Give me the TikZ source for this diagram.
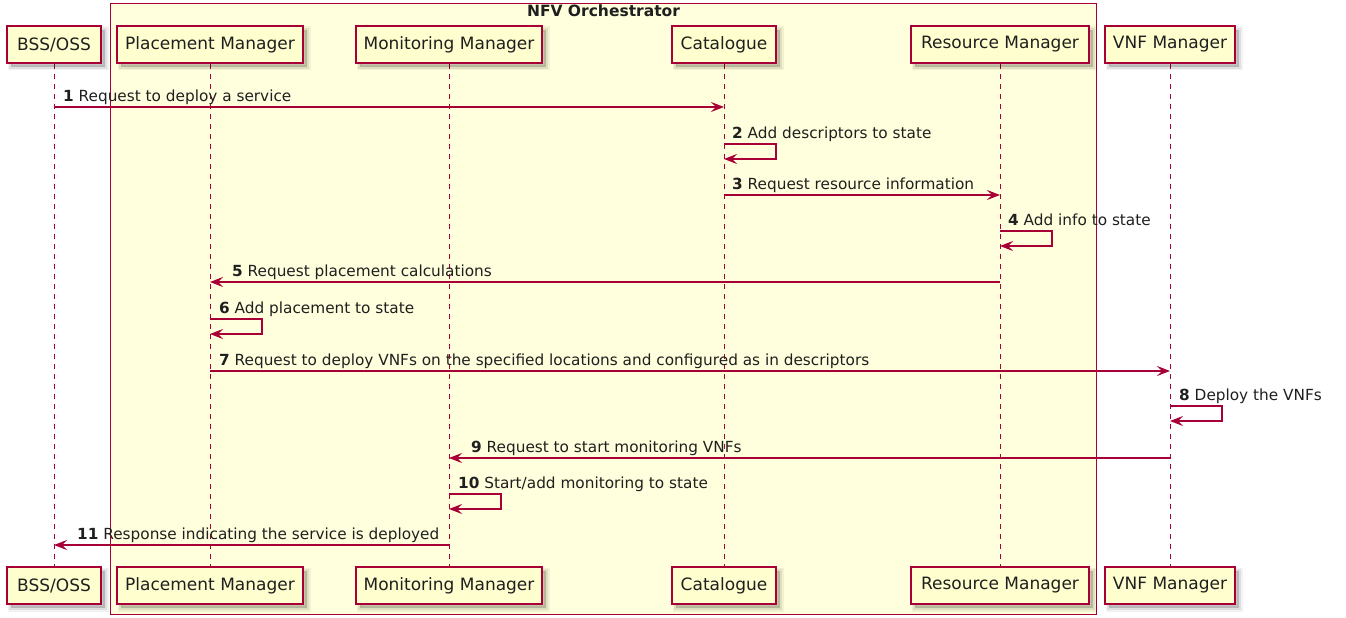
\documentclass[tikz,border=0pt]{standalone}
\usepackage{fontspec}
\setmainfont{DejaVu Sans}
\usetikzlibrary{arrows.meta,shadows,backgrounds}
\definecolor{umlred}{HTML}{A80036}
\definecolor{umlfill}{HTML}{FEFECE}
\definecolor{grpfill}{HTML}{FFFFDD}

\begin{document}
\begin{tikzpicture}[x=1pt,y=-1pt,
  softshadow/.style={
    general shadow={shadow xshift=4pt, shadow yshift=-4pt, draw=black, line width=7pt, opacity=.05},
    general shadow={shadow xshift=4pt, shadow yshift=-4pt, draw=black, line width=3.5pt, opacity=.08},
    general shadow={shadow xshift=4pt, shadow yshift=-4pt, fill=black, opacity=.18}},
  part/.style={draw=umlred, line width=2pt, fill=umlfill, minimum height=37pt,
    inner sep=0pt, text=black!88, font=\fontsize{17}{19}\selectfont, softshadow},
  grp/.style={draw=umlred, line width=1pt, fill=grpfill, inner sep=0pt},
  life/.style={draw=umlred, line width=1pt, dash pattern=on 5pt off 5pt},
  msg/.style={draw=umlred, line width=1.2pt, -{Stealth[length=13pt,width=10pt,inset=5pt]}},
  lbl/.style={anchor=base west, inner sep=0pt, text=black!88, font=\fontsize{15.3}{17}\selectfont},
]
\useasboundingbox (0,0) rectangle (1346,618);

% participants, top row
\node[part, minimum width=94pt]  (bss) at (54,44.5)   {BSS/OSS};
\node[part, minimum width=186pt] (pm)  at (210,44.5)  {Placement Manager};
\node[part, minimum width=186pt] (mm)  at (449,44.5)  {Monitoring Manager};
\node[part, minimum width=104pt] (cat) at (724,44.5)  {Catalogue};
\node[part, minimum width=178pt] (rm)  at (1000,44.5) {Resource Manager};
\node[part, minimum width=130pt] (vnf) at (1170,44.5) {VNF Manager};

% participants, bottom row
\node[part, minimum width=94pt]  (bssB) at (54,585.5)   {BSS/OSS};
\node[part, minimum width=186pt] (pmB)  at (210,585.5)  {Placement Manager};
\node[part, minimum width=186pt] (mmB)  at (449,585.5)  {Monitoring Manager};
\node[part, minimum width=104pt] (catB) at (724,585.5)  {Catalogue};
\node[part, minimum width=178pt] (rmB)  at (1000,585.5) {Resource Manager};
\node[part, minimum width=130pt] (vnfB) at (1170,585.5) {VNF Manager};

% orchestrator group and lifelines
\begin{pgfonlayer}{background}
  \node[grp, minimum width=986pt, minimum height=611pt] (nfv) at (603.5,309) {};
  \foreach \p in {bss,pm,mm,cat,rm,vnf}
    \draw[life] (\p.south) -- (\p B.north);
\end{pgfonlayer}
\node[anchor=base, inner sep=0pt, text=black!88, font=\fontsize{15.5}{17}\selectfont\bfseries]
  (nfvtitle) at (603.5,17) {NFV Orchestrator};

% messages
\draw[msg] (bss |- 0,107) -- (cat |- 0,107);
\node[lbl] (l1) at (63,101.5) {\textbf{1} Request to deploy a service};

\draw[msg] (cat |- 0,144) -- ++(52,0) -- ++(0,15) -- (cat |- 0,159);
\node[lbl] (l2) at (732,138.5) {\textbf{2} Add descriptors to state};

\draw[msg] (cat |- 0,195) -- (rm |- 0,195);
\node[lbl] (l3) at (732,189.5) {\textbf{3} Request resource information};

\draw[msg] (rm |- 0,231) -- ++(52,0) -- ++(0,15) -- (rm |- 0,246);
\node[lbl] (l4) at (1008,225.5) {\textbf{4} Add info to state};

\draw[msg] (rm |- 0,282) -- (pm |- 0,282);
\node[lbl] (l5) at (232,276.5) {\textbf{5} Request placement calculations};

\draw[msg] (pm |- 0,319) -- ++(52,0) -- ++(0,15) -- (pm |- 0,334);
\node[lbl] (l6) at (219,313.5) {\textbf{6} Add placement to state};

\draw[msg] (pm |- 0,371) -- (vnf |- 0,371);
\node[lbl] (l7) at (219,365.5) {\textbf{7} Request to deploy VNFs on the specified locations and configured as in descriptors};

\draw[msg] (vnf |- 0,406) -- ++(52,0) -- ++(0,15) -- (vnf |- 0,421);
\node[lbl] (l8) at (1179,400.5) {\textbf{8} Deploy the VNFs};

\draw[msg] (vnf |- 0,458) -- (mm |- 0,458);
\node[lbl] (l9) at (471,452.5) {\textbf{9} Request to start monitoring VNFs};

\draw[msg] (mm |- 0,494) -- ++(52,0) -- ++(0,15) -- (mm |- 0,509);
\node[lbl] (l10) at (458,488.5) {\textbf{10} Start/add monitoring to state};

\draw[msg] (mm |- 0,545) -- (bss |- 0,545);
\node[lbl] (l11) at (77,539.5) {\textbf{11} Response indicating the service is deployed};
\end{tikzpicture}
\end{document}
